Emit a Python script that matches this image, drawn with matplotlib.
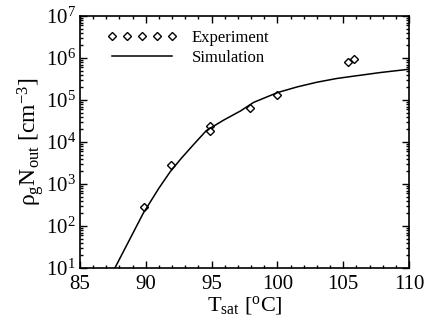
import matplotlib
matplotlib.use('Agg')
import matplotlib.pyplot as plt
from matplotlib.ticker import LogLocator, MultipleLocator, NullFormatter

plt.rcParams['font.family'] = 'Liberation Serif'
plt.rcParams['mathtext.fontset'] = 'custom'
plt.rcParams['mathtext.rm'] = 'Liberation Serif'
plt.rcParams['mathtext.it'] = 'Liberation Serif:italic'

# experiment points
exp_T = [89.85, 91.95, 94.85, 94.9, 97.9, 100.0, 105.4, 105.8]
exp_N = [2.8e2, 2.8e3, 2.4e4, 1.85e4, 6.6e4, 1.3e5, 8.1e5, 9.5e5]

# simulation curve
sim_T = [87.65, 88.55, 89.8, 91.0, 91.85, 92.7, 93.6, 94.6, 95.9, 97.2, 98.2,
         100.0, 101.5, 103.0, 104.5, 105.8, 107.8, 110.0]
sim_N = [10, 35, 200, 800, 1950, 4100, 8500, 1.87e4, 3.3e4, 5.5e4, 8.8e4,
         1.5e5, 2.05e5, 2.65e5, 3.25e5, 3.7e5, 4.5e5, 5.4e5]

fig = plt.figure(figsize=(4.24, 3.28), dpi=100)
ax = fig.add_axes([0.1887, 0.1829, 0.7759, 0.7683])

ax.plot(exp_T, exp_N, linestyle='none', marker='D', ms=4, mfc='white',
        mec='black', mew=1.0, label='Experiment')
ax.plot(sim_T, sim_N, color='black', lw=1.1, label='Simulation')

ax.set_yscale('log')
ax.set_xlim(85, 110)
ax.set_ylim(10, 1e7)
ax.xaxis.set_major_locator(MultipleLocator(5))
ax.xaxis.set_minor_locator(MultipleLocator(1))
ax.yaxis.set_major_locator(LogLocator(base=10, numticks=10))
ax.yaxis.set_minor_locator(LogLocator(base=10, subs=range(2, 10), numticks=20))
ax.yaxis.set_minor_formatter(NullFormatter())
ax.tick_params(which='both', direction='in', top=True, right=True, labelsize=15, width=1)
ax.tick_params(which='major', length=5)
ax.tick_params(which='minor', length=2.5)
ax.tick_params(axis='x', pad=5)
ax.tick_params(axis='y', pad=3)
for s in ax.spines.values():
    s.set_linewidth(1.2)

ax.set_xlabel(r'T$_\mathrm{sat}$ [$^\mathrm{o}$C]', fontsize=16, labelpad=0)
ax.set_ylabel(r'ρ$_\mathrm{g}$N$_\mathrm{out}$ [cm$^{-3}$]', fontsize=17, labelpad=0)

ax.legend(loc='upper left', frameon=False, numpoints=5, handlelength=4.2,
          fontsize=12, bbox_to_anchor=(0.035, 1.005), labelspacing=0.25, handletextpad=0.9)

fig.savefig('out.png', dpi=100)
